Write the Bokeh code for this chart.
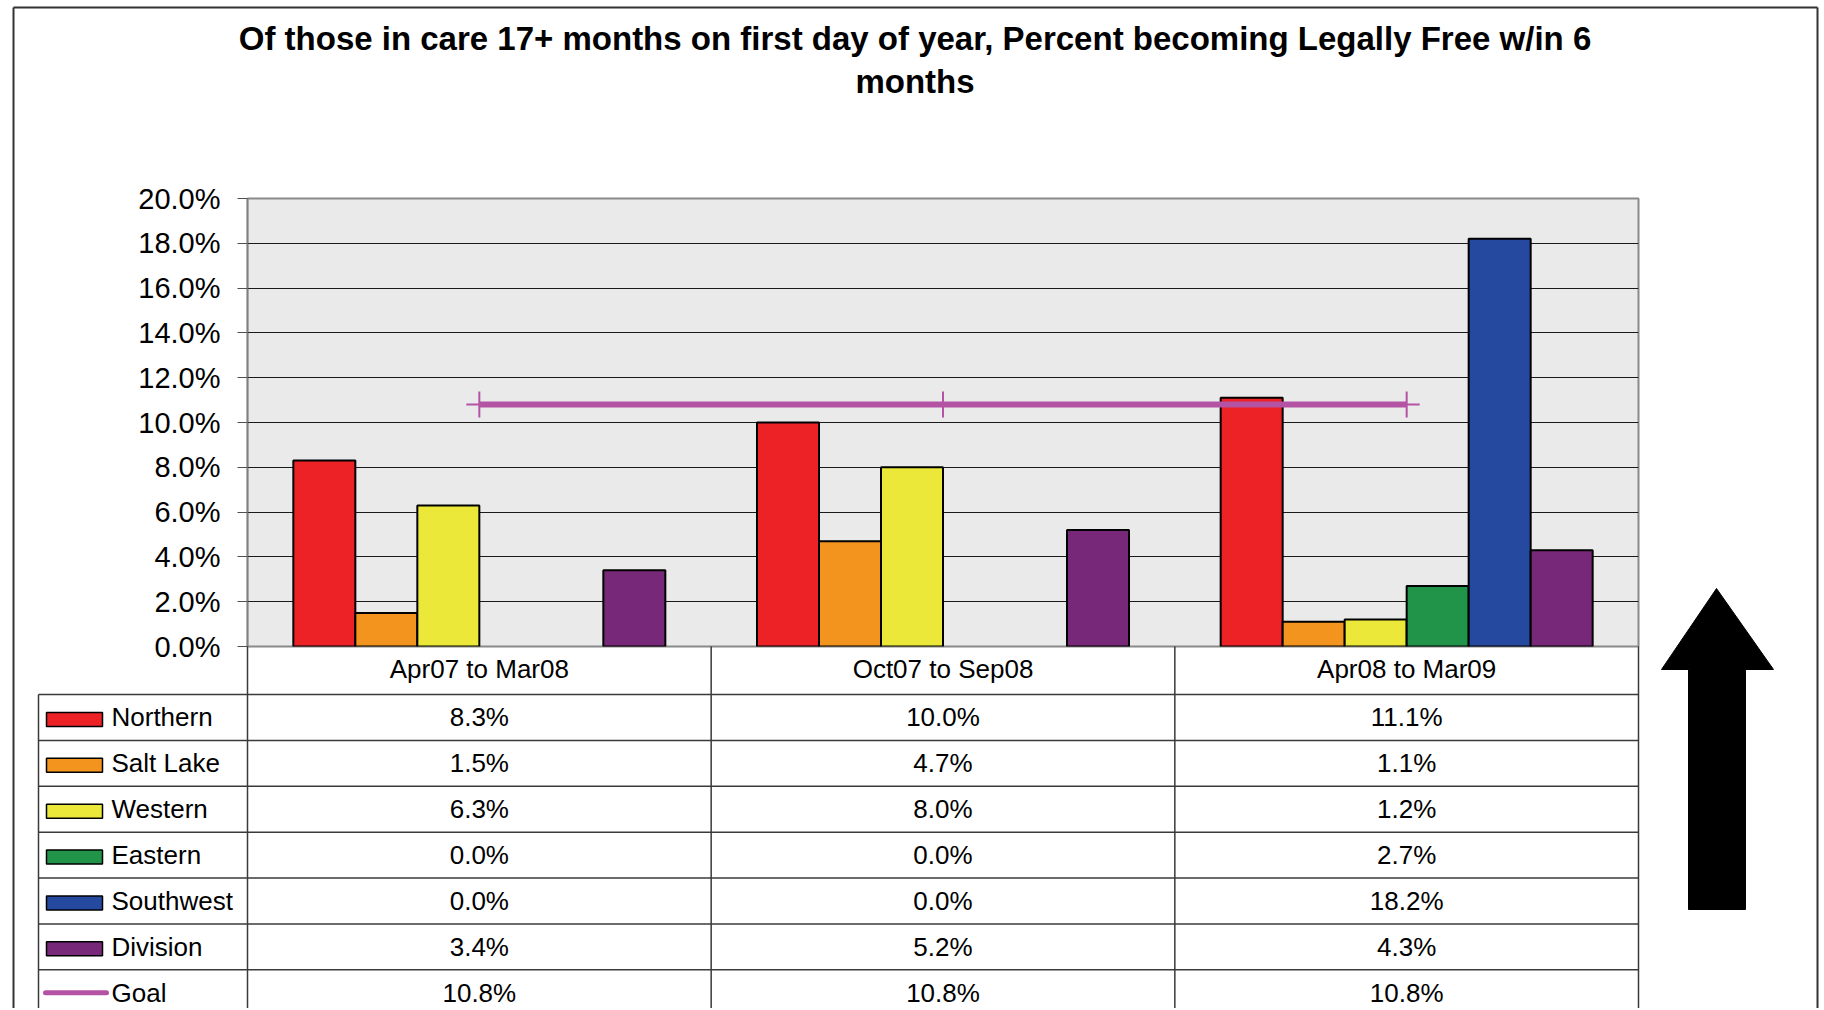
from bokeh.plotting import figure
from bokeh.models import Range1d, FixedTicker, PrintfTickFormatter
from bokeh.core.properties import value
from bokeh.embed import file_html
from bokeh.resources import INLINE

# ---------------- data ----------------
title_lines = [
    "Of those in care 17+ months on first day of year, Percent becoming Legally Free w/in 6",
    "months",
]
categories = ["Apr07 to Mar08", "Oct07 to Sep08", "Apr08 to Mar09"]
series_names = ["Northern", "Salt Lake", "Western", "Eastern", "Southwest", "Division"]
northern = [8.3, 10.0, 11.1]
salt_lake = [1.5, 4.7, 1.1]
western = [6.3, 8.0, 1.2]
eastern = [0.0, 0.0, 2.7]
southwest = [0.0, 0.0, 18.2]
division = [3.4, 5.2, 4.3]
goal_name = "Goal"
goal = [10.8, 10.8, 10.8]
y_ticks = [0, 2, 4, 6, 8, 10, 12, 14, 16, 18, 20]

series_values = [northern, salt_lake, western, eastern, southwest, division]
series_colors = ["#EC2227", "#F3941E", "#ECE83A", "#21944A", "#2649A0", "#782878"]
goal_color = "#B452A4"

# ---------------- layout (page pixels) ----------------
W, H = 1824, 1008
PAGE = 0
FRAME_L, FRAME_T, FRAME_R, FRAME_B = 247, 198, 1638, 646
TABLE_L = 38
HEADER_B = 694
ROW_H = 45.88
PAGE_BOTTOM = PAGE + H
FONT = value("Liberation Sans")

Y_MIN, Y_MAX = 0, 20
X_MIN, X_MAX = 0, len(categories)
PXU_X = (FRAME_R - FRAME_L) / (X_MAX - X_MIN)
PXU_Y = (FRAME_B - FRAME_T) / (Y_MAX - Y_MIN)


def dx(px):
    return X_MIN + (px - FRAME_L) / PXU_X


def dy(py):
    return Y_MIN + (FRAME_B - py) / PXU_Y


p = figure(
    width=W, height=H,
    x_range=Range1d(X_MIN, X_MAX), y_range=Range1d(Y_MIN, Y_MAX),
    output_backend="svg", toolbar_location=None, title=None,
    min_border_left=FRAME_L - PAGE, min_border_top=FRAME_T - PAGE,
    min_border_right=PAGE + W - FRAME_R, min_border_bottom=PAGE + H - FRAME_B,
)
p.background_fill_color = "#EAEAEA"
p.border_fill_color = "white"
p.outline_line_color = "#8a8a8a"
p.outline_line_width = 2

# y axis
p.yaxis.ticker = FixedTicker(ticks=y_ticks)
p.yaxis.formatter = PrintfTickFormatter(format="%.1f%%")
p.yaxis.major_label_text_font = "Liberation Sans"
p.yaxis.major_label_text_font_size = "29px"
p.yaxis.major_label_text_color = "black"
p.yaxis.major_tick_out = 10
p.yaxis.major_tick_in = 0
p.yaxis.minor_tick_line_color = None
p.yaxis.major_tick_line_color = "#505050"
p.yaxis.axis_line_color = "#808080"
p.yaxis.axis_line_width = 1.5
p.yaxis.major_label_standoff = 17

# x axis: category names in the header row of the table
centers = [i + 0.5 for i in range(len(categories))]
p.xaxis.ticker = FixedTicker(ticks=centers)
p.xaxis.major_label_overrides = {c: name for c, name in zip(centers, categories)}
p.xaxis.major_label_text_font = "Liberation Sans"
p.xaxis.major_label_text_font_size = "26px"
p.xaxis.major_label_text_color = "black"
p.xaxis.axis_line_color = None
p.xaxis.major_tick_line_color = None
p.xaxis.minor_tick_line_color = None
p.xaxis.major_tick_out = 0
p.xaxis.major_tick_in = 0
p.xaxis.major_label_standoff = 7

p.xgrid.visible = False
p.ygrid.grid_line_color = "#1a1a1a"
p.ygrid.grid_line_width = 1

# ---------------- bars ----------------
bw = 62 / PXU_X
n = len(series_names)
for j, (vals, col) in enumerate(zip(series_values, series_colors)):
    xs = [i + 0.5 + (j - (n - 1) / 2) * bw for i, v in enumerate(vals) if v > 0]
    tops = [v for v in vals if v > 0]
    p.vbar(x=xs, top=tops, bottom=0, width=bw, fill_color=col,
           line_color="black", line_width=2)

# goal line
p.line(x=centers, y=goal, line_color=goal_color, line_width=6)
p.scatter(x=centers, y=goal, marker="cross", size=26, line_color=goal_color, line_width=2)

# ---------------- table ----------------
rows = series_names + [goal_name]
row_vals = series_values + [goal]
line_col = "#3a3a3a"
hy = [dy(HEADER_B + k * ROW_H) for k in range(len(rows))]
p.segment(x0=[dx(TABLE_L)] * len(hy), x1=[X_MAX] * len(hy), y0=hy, y1=hy,
          line_color=line_col, line_width=1.5, level="overlay")
vx = list(range(X_MIN, X_MAX + 1))
p.segment(x0=vx, x1=vx, y0=[Y_MIN] * len(vx), y1=[dy(PAGE_BOTTOM + 20)] * len(vx),
          line_color=line_col, line_width=1.5, level="overlay")
p.segment(x0=[dx(TABLE_L)], x1=[dx(TABLE_L)], y0=[dy(HEADER_B)], y1=[dy(PAGE_BOTTOM + 20)],
          line_color=line_col, line_width=1.5, level="overlay")

tx, ty, tt = [], [], []
for k, vals in enumerate(row_vals):
    yc = dy(HEADER_B + (k + 0.5) * ROW_H)
    for i, v in enumerate(vals):
        tx.append(i + 0.5)
        ty.append(yc)
        tt.append(f"{v:.1f}%")
p.text(x=tx, y=ty, text=tt, text_font=FONT, text_font_size="26px", text_color="black",
       text_align="center", text_baseline="middle", level="overlay")

# legend column
row_y = [dy(HEADER_B + (k + 0.5) * ROW_H) for k in range(len(rows))]
p.text(x=[dx(111)] * len(rows), y=row_y, text=rows, text_font=FONT, text_font_size="26px",
       text_color="black", text_align="left", text_baseline="middle", level="overlay")
sw_y = [dy(HEADER_B + (k + 0.5) * ROW_H + 2) for k in range(len(series_names))]
p.rect(x=[dx(74)] * len(series_names), y=sw_y, width=56, height=14,
       width_units="screen", height_units="screen", fill_color=series_colors,
       line_color="black", line_width=1.5, level="overlay")
gy = row_y[-1]
p.segment(x0=[dx(45)], x1=[dx(106)], y0=[gy], y1=[gy], line_color=goal_color,
          line_width=5, line_cap="round", level="overlay")
p.scatter(x=[dx(76)], y=[gy], marker="cross", size=18, line_color=goal_color,
          line_width=2, level="overlay")

# ---------------- title ----------------
title_mid = [37.5, 80.7]
p.text(x=[dx(914.5)] * 2, y=[dy(b) for b in title_mid], text=title_lines,
       text_font=FONT, text_font_size="33px", text_font_style="bold", text_color="black",
       text_align="center", text_baseline="middle", level="overlay")

# ---------------- arrow ----------------
arrow_px = [(1716, 588), (1773, 669), (1745, 669), (1745, 909),
            (1688, 909), (1688, 669), (1661, 669)]
p.patch(x=[dx(a) for a, b in arrow_px], y=[dy(b) for a, b in arrow_px],
        fill_color="black", line_color="black", line_width=1, level="overlay")

# ---------------- outer border ----------------
bx0 = [dx(13), dx(13), dx(1817)]
bx1 = [dx(1817), dx(13), dx(1817)]
by0 = [dy(7), dy(7), dy(7)]
by1 = [dy(7), dy(PAGE_BOTTOM + 20), dy(PAGE_BOTTOM + 20)]
p.segment(x0=bx0, x1=bx1, y0=by0, y1=by1, line_color="#333333", line_width=2, level="overlay")

open("out.html", "w").write(file_html(p, INLINE))
